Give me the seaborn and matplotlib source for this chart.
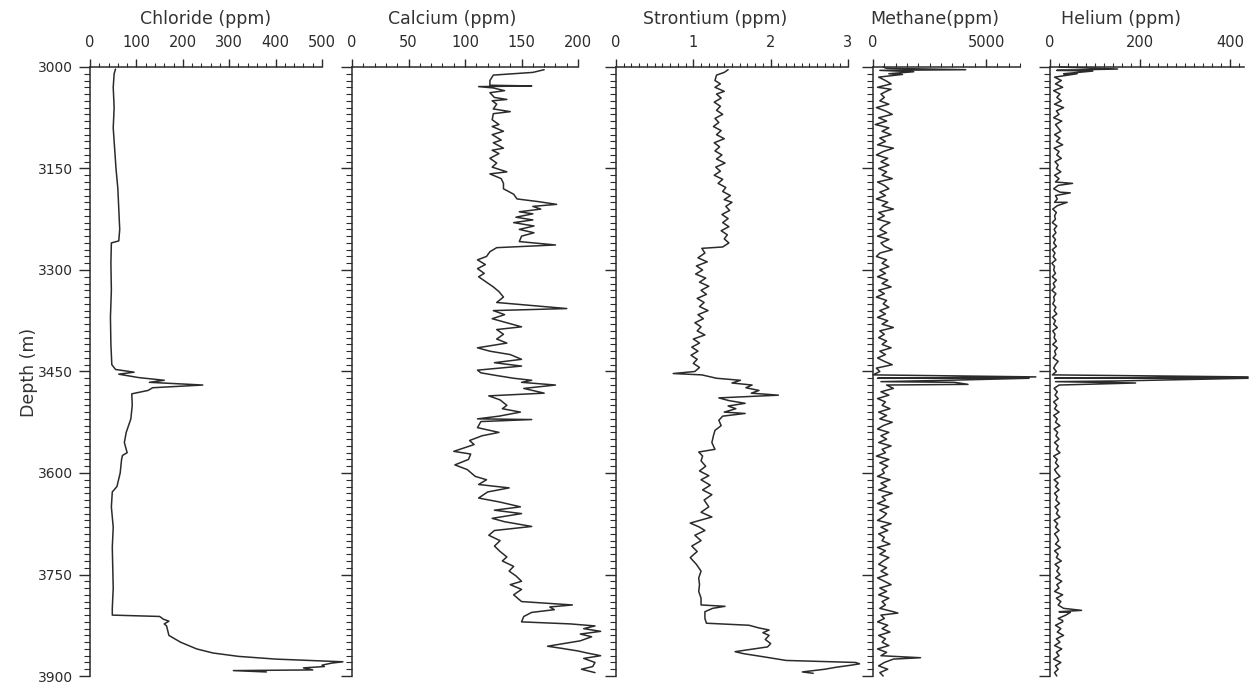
import numpy as np
import pandas as pd
import matplotlib
matplotlib.use("Agg")
import matplotlib.pyplot as plt
from matplotlib.ticker import MultipleLocator, FixedLocator
import seaborn as sns

### chloride (ppm) vs depth (m)
chloride_depth = [3003, 3010, 3030, 3060, 3090, 3120, 3150, 3180, 3210, 3240, 3257, 3260,
                  3290, 3330, 3370, 3410, 3440, 3447, 3451, 3454, 3459, 3463, 3466, 3470,
                  3474, 3478, 3483, 3500, 3520, 3540, 3555, 3570, 3574, 3580, 3600, 3620,
                  3628, 3650, 3680, 3710, 3740, 3770, 3800, 3810, 3812, 3816, 3819, 3823,
                  3826, 3840, 3850, 3860, 3866, 3871, 3875, 3879, 3881, 3884, 3886, 3888,
                  3891, 3892, 3894]
chloride_ppm = [55, 52, 50, 52, 50, 53, 56, 60, 62, 64, 62, 46,
                45, 46, 44, 45, 47, 55, 95, 62, 105, 160, 128, 243,
                135, 125, 90, 91, 88, 78, 74, 80, 70, 68, 65, 58,
                48, 46, 50, 48, 49, 50, 48, 48, 150, 158, 170, 160,
                165, 170, 195, 230, 265, 320, 400, 545, 520, 500, 505, 460,
                480, 309, 380]

### calcium (ppm)
calcium_depth = [3004, 3008, 3012, 3020, 3027, 3028, 3029, 3031, 3035, 3038, 3045, 3048,
                 3050, 3055, 3062, 3066, 3069, 3078, 3085, 3088, 3095, 3100, 3108, 3112,
                 3120, 3123, 3128, 3135, 3142, 3148, 3155, 3158, 3165, 3172, 3180, 3188,
                 3195, 3199, 3203, 3206, 3210, 3214, 3217, 3222, 3226, 3230, 3235, 3240,
                 3245, 3250, 3258, 3263, 3267, 3273, 3280, 3285, 3292, 3298, 3305, 3310,
                 3318, 3325, 3332, 3340, 3348, 3357, 3360, 3366, 3372, 3378, 3384, 3388,
                 3395, 3402, 3408, 3415, 3420, 3425, 3432, 3437, 3442, 3448, 3452, 3456,
                 3460, 3463, 3466, 3470, 3475, 3482, 3486, 3492, 3500, 3505, 3510, 3516,
                 3520, 3521, 3524, 3533, 3540, 3545, 3552, 3558, 3568, 3572, 3580, 3588,
                 3595, 3605, 3610, 3617, 3622, 3628, 3637, 3643, 3650, 3655, 3660, 3667,
                 3672, 3679, 3685, 3692, 3700, 3708, 3716, 3724, 3730, 3738, 3745, 3752,
                 3760, 3765, 3772, 3780, 3790, 3795, 3798, 3802, 3806, 3812, 3820, 3823,
                 3826, 3830, 3834, 3838, 3842, 3848, 3856, 3859, 3863, 3866, 3870, 3874,
                 3880, 3886, 3890, 3895]
calcium_ppm = [170, 160, 125, 122, 122, 159, 112, 125, 135, 122, 126, 137,
               124, 128, 125, 140, 125, 124, 130, 124, 134, 124, 132, 125,
               134, 124, 130, 122, 128, 124, 137, 122, 132, 134, 134, 143,
               146, 165, 181, 160, 167, 148, 160, 145, 160, 143, 161, 148,
               161, 150, 148, 180, 128, 122, 119, 111, 118, 111, 117, 112,
               119, 125, 130, 134, 128, 190, 125, 135, 124, 137, 150, 128,
               134, 128, 137, 111, 122, 140, 150, 126, 150, 111, 114, 128,
               143, 159, 150, 180, 152, 170, 121, 131, 137, 133, 149, 130,
               111, 159, 114, 111, 130, 115, 104, 108, 90, 105, 103, 91,
               102, 109, 119, 112, 139, 120, 112, 131, 149, 126, 150, 124,
               135, 159, 126, 121, 131, 126, 131, 137, 133, 143, 139, 145,
               150, 140, 150, 143, 150, 195, 175, 179, 159, 152, 150, 193,
               215, 205, 220, 202, 212, 202, 173, 185, 200, 208, 220, 205,
               215, 213, 203, 215]

### strontium (ppm)
strontium_depth = [3004, 3008, 3012, 3020, 3025, 3030, 3036, 3040, 3046, 3052, 3058, 3064,
                   3070, 3076, 3082, 3088, 3094, 3100, 3106, 3112, 3118, 3124, 3130, 3136,
                   3142, 3148, 3154, 3160, 3166, 3172, 3178, 3184, 3190, 3196, 3200, 3206,
                   3212, 3218, 3224, 3230, 3236, 3242, 3248, 3254, 3260, 3266, 3268, 3275,
                   3282, 3288, 3294, 3300, 3306, 3312, 3318, 3324, 3330, 3336, 3342, 3348,
                   3354, 3360, 3366, 3372, 3378, 3384, 3390, 3396, 3402, 3408, 3414, 3420,
                   3426, 3432, 3438, 3444, 3450, 3453, 3455, 3460, 3463, 3467, 3470, 3474,
                   3478, 3482, 3485, 3489, 3493, 3497, 3501, 3505, 3510, 3512, 3516, 3522,
                   3530, 3537, 3545, 3555, 3565, 3569, 3575, 3582, 3590, 3597, 3604, 3610,
                   3618, 3625, 3632, 3640, 3650, 3658, 3665, 3674, 3680, 3685, 3692, 3700,
                   3708, 3716, 3725, 3735, 3745, 3755, 3765, 3775, 3785, 3795, 3797, 3800,
                   3805, 3815, 3822, 3825, 3829, 3832, 3836, 3840, 3846, 3852, 3857, 3864,
                   3867, 3872, 3877, 3880, 3882, 3884, 3887, 3890, 3894, 3896]
strontium_ppm = [1.45, 1.40, 1.30, 1.28, 1.35, 1.28, 1.40, 1.30, 1.36, 1.27, 1.35, 1.30,
                 1.38, 1.28, 1.33, 1.26, 1.36, 1.30, 1.40, 1.27, 1.34, 1.28, 1.37, 1.30,
                 1.41, 1.29, 1.35, 1.27, 1.38, 1.32, 1.42, 1.38, 1.48, 1.40, 1.50, 1.42,
                 1.47, 1.37, 1.45, 1.38, 1.46, 1.36, 1.44, 1.40, 1.46, 1.38, 1.11, 1.15,
                 1.06, 1.18, 1.04, 1.12, 1.03, 1.16, 1.08, 1.20, 1.10, 1.17, 1.05, 1.14,
                 1.08, 1.19, 1.06, 1.13, 1.02, 1.10, 1.05, 1.15, 1.00, 1.08, 0.98, 1.06,
                 0.97, 1.05, 1.00, 1.08, 1.02, 0.74, 1.11, 1.30, 1.61, 1.50, 1.76, 1.68,
                 1.85, 1.75, 2.10, 1.33, 1.46, 1.67, 1.45, 1.55, 1.40, 1.67, 1.38, 1.33,
                 1.36, 1.28, 1.26, 1.24, 1.28, 1.07, 1.12, 1.10, 1.16, 1.08, 1.20, 1.10,
                 1.22, 1.12, 1.24, 1.14, 1.20, 1.10, 1.24, 0.96, 1.08, 1.15, 1.02, 1.10,
                 0.98, 1.05, 0.96, 1.04, 1.10, 1.07, 1.08, 1.07, 1.10, 1.10, 1.41, 1.25,
                 1.15, 1.15, 1.17, 1.72, 1.85, 1.98, 1.90, 1.98, 1.93, 2.00, 1.96, 1.54,
                 1.65, 1.93, 2.20, 3.10, 3.15, 3.04, 2.85, 2.70, 2.41, 2.55]

### methane / helium: 5 m readings from 3000 to 3900 plus the spikes
gas_depth = list(range(3000, 3905, 5))
methane_ppm = [450, 300, 700, 250, 550, 800, 200, 650, 350, 500,
               300, 700, 150, 550, 850, 250, 600, 100, 700, 400,
               800, 300, 550, 200, 900, 450, 150, 650, 350, 700,
               250, 600, 400, 850, 200, 500, 700, 300, 550, 150,
               650, 400, 900, 250, 500, 200, 750, 450, 300, 600,
               200, 700, 350, 500, 850, 300, 150, 600, 400, 700,
               300, 550, 200, 650, 400, 800, 250, 500, 150, 600,
               450, 700, 300, 550, 200, 650, 400, 900, 300, 500,
               250, 600, 400, 800, 300, 550, 200, 500, 850, 150,
               300, 0, 200, 350, 600, 900, 350, 700, 200, 550,
               400, 750, 250, 600, 300, 850, 450, 200, 700, 350,
               600, 250, 800, 400, 550, 150, 700, 300, 650, 400,
               500, 200, 750, 350, 600, 250, 850, 400, 550, 200,
               700, 300, 600, 450, 200, 800, 350, 650, 250, 500,
               400, 750, 200, 550, 300, 700, 450, 250, 600, 350,
               650, 200, 500, 800, 300, 600, 250, 700, 400, 550,
               300, 900, 350, 500, 200, 650, 400, 750, 250, 550,
               400, 700, 200, 600, 350, 900, 500, 250, 650, 300,
               450]
helium_ppm = [20, 15, 30, 10, 25, 12, 28, 8, 22, 15,
              25, 10, 30, 14, 20, 8, 26, 12, 18, 24,
              10, 22, 14, 28, 9, 20, 15, 25, 11, 18,
              14, 24, 10, 20, 12, 18, 8, 22, 12, 16,
              10, 16, 6, 14, 10, 12, 5, 15, 9, 13,
              6, 12, 8, 14, 5, 11, 7, 13, 4, 10,
              8, 12, 5, 14, 7, 11, 4, 13, 8, 10,
              6, 13, 9, 15, 5, 12, 8, 16, 6, 11,
              9, 14, 6, 16, 10, 13, 7, 18, 12, 8,
              14, 5, 10, 12, 20, 9, 16, 11, 18, 8,
              15, 10, 20, 8, 16, 12, 22, 9, 17, 13,
              20, 10, 18, 14, 22, 8, 16, 12, 19, 10,
              15, 22, 9, 18, 12, 20, 10, 16, 13, 21,
              11, 18, 14, 22, 9, 17, 12, 20, 10, 16,
              19, 12, 23, 10, 18, 14, 25, 11, 20, 15,
              22, 12, 26, 15, 20, 10, 28, 14, 24, 18,
              30, 20, 35, 18, 28, 12, 24, 16, 30, 14,
              22, 10, 26, 14, 20, 8, 24, 12, 18, 10,
              15]
methane_spike_depth = [3002, 3004, 3007, 3011, 3033, 3458, 3460, 3463, 3466, 3469, 3807, 3873]
methane_spike_ppm = [600, 4100, 1800, 1300, 800, 7200, 6900, 3300, 3600, 4200, 1100, 2100]
helium_spike_depth = [3003, 3006, 3010, 3172, 3186, 3200, 3458, 3460, 3464, 3467, 3803, 3806, 3818]
helium_spike_ppm = [150, 95, 60, 50, 45, 38, 440, 440, 150, 190, 70, 45, 28]

titles = ["Chloride (ppm)", "Calcium (ppm)", "Strontium (ppm)", "Methane(ppm)", "Helium (ppm)"]
depth_ticks = [3000, 3150, 3300, 3450, 3600, 3750, 3900]


def merge(depth, vals, sdepth, svals):
    a = pd.DataFrame({"depth": depth, "value": vals})
    b = pd.DataFrame({"depth": sdepth, "value": svals})
    return pd.concat([a, b]).sort_values("depth", kind="stable").reset_index(drop=True)


frames = [
    pd.DataFrame({"depth": chloride_depth, "value": chloride_ppm}),
    pd.DataFrame({"depth": calcium_depth, "value": calcium_ppm}),
    pd.DataFrame({"depth": strontium_depth, "value": strontium_ppm}),
    merge(gas_depth, methane_ppm, methane_spike_depth, methane_spike_ppm),
    merge(gas_depth, helium_ppm, helium_spike_depth, helium_spike_ppm),
]

sns.set_style("ticks")
plt.rcParams["font.family"] = ["DejaVu Sans"]
ink = "#2b2b2b"

fig = plt.figure(figsize=(12.52, 6.87), dpi=100)

# panel geometry in figure fractions, x limits and tick steps
bottom, height = 0.016, 0.8865
panels = [
    # left, width, xmax, major, minor
    (0.0719, 0.1853, 500, 100, 20),
    (0.2812, 0.1805, 200, 50, 10),
    (0.4920, 0.1853, 3, 1, 0.1),
    (0.6973, 0.1174, 6500, None, 500),
    (0.8387, 0.1546, 430, 200, 20),
]
title_x = [0.164, 0.361, 0.571, 0.747, 0.895]

for i, (left, width, xmax, major, minor) in enumerate(panels):
    ax = fig.add_axes([left, bottom, width, height])
    sns.lineplot(data=frames[i], x="value", y="depth", sort=False, estimator=None,
                 ax=ax, color=ink, lw=1.1, clip_on=False)
    ax.set_xlim(0, xmax)
    ax.set_ylim(3900, 3000)
    ax.xaxis.tick_top()
    if major is None:
        ax.xaxis.set_major_locator(FixedLocator([0, 5000]))
    else:
        ax.xaxis.set_major_locator(MultipleLocator(major))
    ax.xaxis.set_minor_locator(MultipleLocator(minor))
    ax.yaxis.set_major_locator(FixedLocator(depth_ticks))
    ax.yaxis.set_minor_locator(MultipleLocator(10))
    for s in ["right", "bottom"]:
        ax.spines[s].set_visible(False)
    for s in ["top", "left"]:
        ax.spines[s].set_linewidth(1.1)
        ax.spines[s].set_color(ink)
    ax.tick_params(axis="x", which="major", length=6, width=1.0, pad=6,
                   labelsize=10.5, colors=ink, direction="out")
    ax.tick_params(axis="x", which="minor", length=3, width=0.8, colors=ink, direction="out")
    ax.tick_params(axis="y", which="major", length=8, width=1.0, pad=4,
                   labelsize=10, colors=ink, direction="out")
    ax.tick_params(axis="y", which="minor", length=4, width=0.8, colors=ink, direction="out")
    ax.set_xlabel("")
    ax.set_ylabel("")
    if i > 0:
        ax.set_yticklabels([])
    ax.grid(False)
    fig.text(title_x[i], 0.972, titles[i], ha="center", va="center",
             fontsize=12.5, color="#333333")

fig.text(0.023, 0.458, "Depth (m)", rotation=90, ha="center", va="center",
         fontsize=12.5, color="#333333")

fig.savefig("out.png", dpi=100, facecolor="white")
